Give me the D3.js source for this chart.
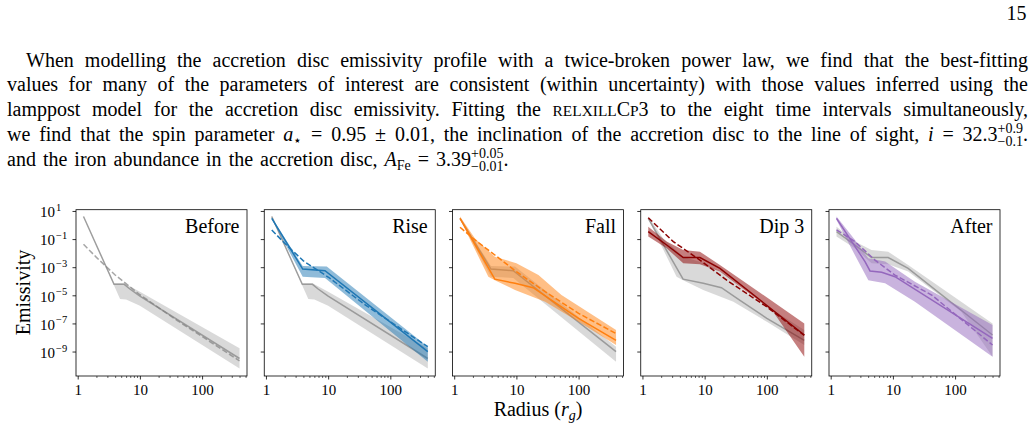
<!DOCTYPE html>
<html><head><meta charset="utf-8">
<script src="https://cdn.jsdelivr.net/npm/d3@7"></script>
<style>
html,body{margin:0;padding:0;background:#fff;}
svg{display:block;}
text{font-family:"Liberation Serif","Times New Roman",serif;fill:#000;}
</style></head><body>
<svg id="c" width="1034" height="431"></svg>
<script>
// ---------------- DATA (radius in r_g, emissivity) ----------------
const panelTitles = ["Before", "Rise", "Fall", "Dip 3", "After"];
const xTickValues = [1, 10, 100];
const xMinorTicks = [2,3,4,5,6,7,8,9,20,30,40,50,60,70,80,90,200,300,400,500];
const yTickExponents = [1, -1, -3, -5, -7, -9];

const beforeMedian   = [[1.24,4.0],[3.84,6.0e-5],[5.6,6.0e-5],[6.9,2.8e-5],[10,8.7e-6],[400,3.2e-10]];
const beforeLower    = [[1.24,3.5],[3.84,5.0e-5],[4.8,5.5e-6],[6.0,5.0e-6],[10,1.8e-6],[400,6.3e-11]];
const beforeUpper    = [[1.24,4.5],[3.84,7.1e-5],[5.6,7.1e-5],[10,1.8e-5],[400,1.7e-9]];
const beforeLamppost = [[1.24,0.043],[2,5.0e-3],[4,2.8e-4],[10,1.1e-5],[40,1.6e-7],[400,2.2e-10]];

const riseMedian   = [[1.24,3.0],[3.9,7.4e-4],[8.9,5.6e-4],[400,9.8e-10]];
const riseLower    = [[1.24,2.7],[3.9,2.1e-4],[8.9,1.7e-4],[400,1.9e-10]];
const riseUpper    = [[1.24,3.4],[3.9,1.2e-3],[9.5,1.1e-3],[400,2.2e-9]];
const riseLamppost = [[1.24,0.45],[2,0.05],[4,2.8e-3],[10,2.0e-4],[40,2.0e-6],[400,2.2e-9]];

const fallMedian   = [[1.24,3.0],[4.5,1.4e-4],[9.5,7.1e-5],[18.6,3.5e-5],[37,4.4e-6],[100,2.3e-7],[400,6.3e-9]];
const fallLower    = [[1.24,2.7],[3.54,2.1e-4],[4.5,1.2e-4],[9.5,2.4e-5],[29,3.5e-6],[100,1.3e-7],[400,2.9e-9]];
const fallUpper    = [[1.24,4.0],[2.16,0.11],[4.5,5.6e-3],[10,1.9e-3],[22.6,2.8e-4],[53,1.05e-5],[400,3.4e-8]];
const fallLamppost = [[1.24,0.69],[2.16,0.087],[4.5,7.4e-3],[10,4.8e-4],[29,1.8e-5],[100,5.2e-7],[400,1.9e-8]];

const dip3Median   = [[1.24,0.34],[2.45,0.038],[4.53,4.8e-3],[8.4,4.8e-3],[17.6,8.3e-4],[400,1.5e-8]];
const dip3Lower    = [[1.24,0.15],[2.45,0.022],[4.53,1.9e-3],[8.4,1.6e-3],[17.6,4.9e-4],[126,6.8e-7],[400,4.3e-10]];
const dip3Upper    = [[1.24,0.76],[2.45,0.066],[4.53,0.0166],[8.4,0.0126],[17.6,1.45e-3],[400,1.0e-7]];
const dip3Lamppost = [[1.24,3.3],[3.13,0.066],[8.4,3.2e-3],[22.6,1.2e-4],[99,1.55e-6],[400,1.4e-8]];

const afterMedian   = [[1.24,3.0],[3.56,2.5e-3],[4.29,5.4e-4],[6.6,4.3e-4],[10.8,2.1e-4],[400,8.7e-9]];
const afterLower    = [[1.24,2.3],[2.78,2.5e-3],[4.03,1.2e-4],[7.5,7.1e-5],[22.6,3.5e-6],[400,4.3e-10]];
const afterUpper    = [[1.24,4.0],[2.46,0.087],[4.03,4.3e-3],[7.5,2.5e-3],[22.6,9.3e-5],[400,7.8e-8]];
const afterLamppost = [[1.24,0.45],[2.46,0.066],[5.15,3.2e-3],[10.8,2.75e-4],[42,1.05e-5],[400,2.9e-9]];

// ---------------- STYLE / LAYOUT ----------------
const datasets = [
  {median: beforeMedian, lower: beforeLower, upper: beforeUpper, lamp: beforeLamppost},
  {median: riseMedian,   lower: riseLower,   upper: riseUpper,   lamp: riseLamppost},
  {median: fallMedian,   lower: fallLower,   upper: fallUpper,   lamp: fallLamppost},
  {median: dip3Median,   lower: dip3Lower,   upper: dip3Upper,   lamp: dip3Lamppost},
  {median: afterMedian,  lower: afterLower,  upper: afterUpper,  lamp: afterLamppost}
];
const colors = ["gray", "#1f77b4", "#ff7f0e", "#8b0000", "#9467bd"];

const svg = d3.select("#c");
const plotTop = 209.7, plotBottom = 376, left0 = 76, step = 188.25, pw = 171;

const y = d3.scaleLog().domain([Math.pow(10,-10.74), Math.pow(10,1.09)]).range([plotBottom, plotTop]);

datasets.forEach((ds, i) => {
  const left = left0 + i*step;
  const x = d3.scaleLog().domain([Math.pow(10,-0.0273), Math.pow(10,2.722)]).range([left, left+pw]);
  const line = d3.line().x(d => x(d[0])).y(d => y(d[1]));
  const band = s => line(s.upper.concat(s.lower.slice().reverse())) + "Z";
  const g = svg.append("g");
  const isGray = i === 0;
  if (i > 0) {
    const ref = datasets[i-1];
    g.append("path").attr("d", band(ref)).attr("fill", "gray").attr("fill-opacity", 0.3);
    g.append("path").attr("d", line(ref.median)).attr("fill", "none").attr("stroke", "gray")
      .attr("stroke-opacity", 0.7).attr("stroke-width", 1.5);
  }
  const c = colors[i];
  g.append("path").attr("d", band(ds)).attr("fill", c).attr("fill-opacity", isGray ? 0.3 : 0.5);
  g.append("path").attr("d", line(ds.median)).attr("fill", "none").attr("stroke", c)
    .attr("stroke-opacity", isGray ? 0.7 : 1).attr("stroke-width", 1.5);
  g.append("path").attr("d", line(ds.lamp)).attr("fill", "none").attr("stroke", c)
    .attr("stroke-opacity", isGray ? 0.7 : 1).attr("stroke-width", 1.5).attr("stroke-dasharray", "5.55,2.4");

  // frame
  g.append("rect").attr("x", left).attr("y", plotTop).attr("width", pw).attr("height", plotBottom-plotTop)
    .attr("fill", "none").attr("stroke", "#000").attr("stroke-width", 0.8);

  // x axis
  const xa = g.append("g").attr("transform", `translate(0,${plotBottom})`)
    .call(d3.axisBottom(x).tickValues(xTickValues).tickSize(3.5).tickPadding(5).tickFormat(d3.format("d")));
  xa.select(".domain").remove();
  xa.selectAll("line").attr("stroke-width", 0.8);
  xa.selectAll("text").attr("font-size", 15).attr("font-family", "Liberation Serif").attr("fill", "#000");
  const xm = g.append("g").attr("transform", `translate(0,${plotBottom})`)
    .call(d3.axisBottom(x).tickValues(xMinorTicks).tickSize(2).tickFormat(""));
  xm.select(".domain").remove();
  xm.selectAll("line").attr("stroke-width", 0.6);

  // y axis
  const ya = g.append("g").attr("transform", `translate(${left},0)`)
    .call(d3.axisLeft(y).tickValues(yTickExponents.map(e => Math.pow(10, e))).tickSize(3.5).tickFormat(""));
  ya.select(".domain").remove();
  ya.selectAll("line").attr("stroke-width", 0.8);

  if (i === 0) {
    yTickExponents.forEach(e => {
      const ty = y(Math.pow(10, e));
      const t = svg.append("text").attr("x", 40).attr("y", ty + 6.3).attr("font-size", 15);
      t.append("tspan").text("10");
      t.append("tspan").attr("font-size", 10.5).attr("dx", 1).attr("dy", -6.3)
        .text(e < 0 ? "\u2212" + (-e) : String(e));
    });
  }

  g.append("text").attr("x", left + pw - 7.5).attr("y", 233.3).attr("text-anchor", "end")
    .attr("font-size", 20).text(panelTitles[i]);
});

// axis labels
svg.append("text").attr("transform", "translate(29.5,292.5) rotate(-90)").attr("text-anchor", "middle")
  .attr("font-size", 20).text("Emissivity");
const xl = svg.append("text").attr("x", left0 + 2*step + pw/2).attr("y", 416).attr("text-anchor", "middle").attr("font-size", 20);
xl.append("tspan").text("Radius (");
xl.append("tspan").attr("font-style", "italic").text("r");
xl.append("tspan").attr("font-size", 14).attr("font-style", "italic").attr("dy", 4).text("g");
xl.append("tspan").attr("dy", -4).text(")");

// ---------------- PARAGRAPH TEXT ----------------
svg.append("text").attr("x", 1026.5).attr("y", 20).attr("text-anchor", "end").attr("font-size", 20).text("15");

const para = [
 {x0:26, x1:1028, y:66.5, justify:true, pieces:[{t:"When modelling the accretion disc emissivity profile with a twice-broken power law, we find that the best-fitting"}]},
 {x0:7, x1:1028, y:91.25, justify:true, pieces:[{t:"values for many of the parameters of interest are consistent (within uncertainty) with those values inferred using the"}]},
 {x0:7, x1:1028, y:116, justify:true, pieces:[{t:"lamppost model for the accretion disc emissivity. Fitting the "},{t:"RELXILL",s:"sc"},{t:"C"},{t:"P",s:"sc"},{t:"3 to the eight time intervals simultaneously,"}]},
 {x0:7, x1:1028, y:140.75, justify:true, pieces:[{t:"we find that the spin parameter "},{t:"a",s:"it"},{t:"\u22c6",s:"sub"},{t:" = 0.95 \u00b1 0.01, the inclination of the accretion disc to the line of sight, "},{t:"i",s:"it"},{t:" = 32.3"},{sup:"+0.9",sub:"\u22120.1"},{t:"."}]},
 {x0:7, x1:547, y:165.5, justify:false, pieces:[{t:"and the iron abundance in the accretion disc, "},{t:"A",s:"it"},{t:"Fe",s:"sub"},{t:" = 3.39"},{sup:"+0.05",sub:"\u22120.01"},{t:"."}]}
];
const LS = 0;
const styleOf = s => {
  if (s === "it") return {size:20, italic:true, dy:0};
  if (s === "sc") return {size:15.4, italic:false, dy:0};
  if (s === "sub") return {size:14, italic:false, dy:4.5};
  return {size:20, italic:false, dy:0};
};
function measure(str, size, italic) {
  const t = svg.append("text").attr("font-size", size).attr("font-style", italic ? "italic" : null)
    .style("letter-spacing", LS + "px").text(str);
  const w = t.node().getComputedTextLength();
  t.remove();
  return w;
}
function tokenize(pieces) {
  const boxes = []; let cur = [];
  pieces.forEach(p => {
    if (p.sup !== undefined) { cur.push(p); return; }
    const parts = p.t.split(" ");
    parts.forEach((part, k) => {
      if (k > 0) { if (cur.length) boxes.push(cur); cur = []; }
      if (part.length) cur.push({t: part, s: p.s});
    });
  });
  if (cur.length) boxes.push(cur);
  return boxes;
}
const laid = para.map(L => {
  const boxes = tokenize(L.pieces).map(b => {
    let w = 0;
    const items = b.map(p => {
      if (p.sup !== undefined) {
        const w1 = measure(p.sup, 14, false), w2 = measure(p.sub, 14, false);
        const it = {p, w: Math.max(w1, w2)}; w += it.w; return it;
      }
      const st = styleOf(p.s);
      const it = {p, st, w: measure(p.t, st.size, st.italic)}; w += it.w; return it;
    });
    return {items, w};
  });
  const total = d3.sum(boxes, b => b.w);
  let gap = (L.x1 - L.x0 - total) / (boxes.length - 1);
  if (!L.justify) gap = Math.max(4.5, Math.min(gap, 7));
  return {L, boxes, gap};
});
laid.forEach(({L, boxes, gap}) => {
  let cx = L.x0;
  boxes.forEach(b => {
    let px = cx;
    b.items.forEach(it => {
      if (it.p.sup !== undefined) {
        svg.append("text").attr("x", px).attr("y", L.y - 8).attr("font-size", 14).style("letter-spacing", LS+"px").text(it.p.sup);
        svg.append("text").attr("x", px).attr("y", L.y + 5).attr("font-size", 14).style("letter-spacing", LS+"px").text(it.p.sub);
      } else {
        svg.append("text").attr("x", px).attr("y", L.y + it.st.dy).attr("font-size", it.st.size)
          .attr("font-style", it.st.italic ? "italic" : null).style("letter-spacing", LS+"px").text(it.p.t);
      }
      px += it.w;
    });
    cx += b.w + gap;
  });
});
</script></body></html>
